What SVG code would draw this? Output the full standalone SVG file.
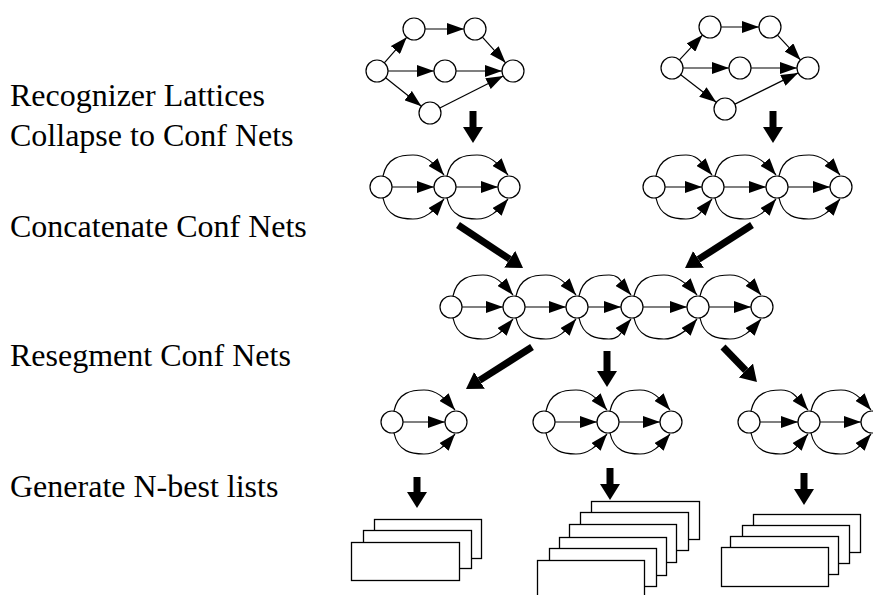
<svg xmlns="http://www.w3.org/2000/svg" width="873" height="595" viewBox="0 0 873 595">
<style>
  .lbl { font-family: "Liberation Serif", "Times New Roman", serif; font-size: 32px; fill: #000; }
  .n { fill: #fff; stroke: #000; stroke-width: 1.2; }
  .e { fill: none; stroke: #000; stroke-width: 1.2; marker-end: url(#a); }
  .big { fill: none; stroke: #000; stroke-width: 7; marker-end: url(#h); }
  .sheet { fill: #fff; stroke: #000; stroke-width: 1.3; }
</style>
<defs>
  <marker id="a" markerUnits="userSpaceOnUse" viewBox="0 0 17 12" markerWidth="17" markerHeight="12" refX="17" refY="6" orient="auto">
    <path d="M0,0 L17,6 L0,12 z" fill="#000"/>
  </marker>
  <marker id="h" markerUnits="userSpaceOnUse" viewBox="0 0 16 20" markerWidth="16" markerHeight="20" refX="0" refY="10" orient="auto">
    <path d="M0,0 L16,10 L0,20 z" fill="#000"/>
  </marker>
</defs>
<rect width="873" height="595" fill="#fff"/>

<!-- step labels -->
<g id="labels">
  <text class="lbl" x="10" y="106">Recognizer Lattices</text>
  <text class="lbl" x="10" y="146">Collapse to Conf Nets</text>
  <text class="lbl" x="10" y="237">Concatenate Conf Nets</text>
  <text class="lbl" x="10" y="366">Resegment Conf Nets</text>
  <text class="lbl" x="10" y="497">Generate N-best lists</text>
</g>

<!-- connectors -->
<g id="connectors">
  <!-- lattice 1 -->
  <path class="e" d="M384.3,62.8 L406.7,37.3"/>
  <path class="e" d="M425,29 H464"/>
  <path class="e" d="M482.4,37.2 L505.6,62.8"/>
  <path class="e" d="M388,71 H434"/>
  <path class="e" d="M456,71 H502"/>
  <path class="e" d="M385.6,77.8 L421.4,106.2"/>
  <path class="e" d="M439.8,108 L503.2,76"/>
  <!-- lattice 2 -->
  <path class="e" d="M679.5,59.9 L702.5,35.1"/>
  <path class="e" d="M721,27 H759"/>
  <path class="e" d="M777.5,35.1 L800.5,59.9"/>
  <path class="e" d="M683,68 H729"/>
  <path class="e" d="M751,68 H797"/>
  <path class="e" d="M680.7,74.7 L716.3,102.3"/>
  <path class="e" d="M734.9,104.1 L798.1,72.9"/>

  <!-- confusion net A -->
  <path class="e" d="M383,176 C387,157 401,155 413,155 S433,162 444,175"/>
  <path class="e" d="M383,198 C387,217 401,219 413,219 S433,212 444,199"/>
  <path class="e" d="M392,187 H434"/>
  <path class="e" d="M447,176 C451,157 465,155 477,155 S497,162 508,175"/>
  <path class="e" d="M447,198 C451,217 465,219 477,219 S497,212 508,199"/>
  <path class="e" d="M456,187 H498"/>

  <!-- confusion net B -->
  <path class="e" d="M656,176 C660,157 674,155 686,155 S701,162 712,175"/>
  <path class="e" d="M656,198 C660,217 674,219 686,219 S701,212 712,199"/>
  <path class="e" d="M665,187 H702"/>
  <path class="e" d="M715,176 C719,157 733,155 745,155 S765,162 776,175"/>
  <path class="e" d="M715,198 C719,217 733,219 745,219 S765,212 776,199"/>
  <path class="e" d="M724,187 H766"/>
  <path class="e" d="M779,176 C783,157 797,155 809,155 S829,162 840,175"/>
  <path class="e" d="M779,198 C783,217 797,219 809,219 S829,212 840,199"/>
  <path class="e" d="M788,187 H830"/>

  <!-- concatenated net -->
  <path class="e" d="M453,296 C457,277 471,275 483,275 S502,282 513,295"/>
  <path class="e" d="M453,318 C457,337 471,339 483,339 S502,332 513,319"/>
  <path class="e" d="M462,307 H503"/>
  <path class="e" d="M516,296 C520,277 534,275 546,275 S565,282 576,295"/>
  <path class="e" d="M516,318 C520,337 534,339 546,339 S565,332 576,319"/>
  <path class="e" d="M525,307 H566"/>
  <path class="e" d="M579,296 C583,277 597,275 609,275 S620,282 631,295"/>
  <path class="e" d="M579,318 C583,337 597,339 609,339 S620,332 631,319"/>
  <path class="e" d="M588,307 H621"/>
  <path class="e" d="M634,296 C638,277 652,275 664,275 S686,282 697,295"/>
  <path class="e" d="M634,318 C638,337 652,339 664,339 S686,332 697,319"/>
  <path class="e" d="M643,307 H687"/>
  <path class="e" d="M700,296 C704,277 718,275 730,275 S750,282 761,295"/>
  <path class="e" d="M700,318 C704,337 718,339 730,339 S750,332 761,319"/>
  <path class="e" d="M709,307 H751"/>

  <!-- resegmented nets -->
  <path class="e" d="M394,411 C398,392 412,390 424,390 S444,397 455,410"/>
  <path class="e" d="M394,433 C398,452 412,454 424,454 S444,447 455,434"/>
  <path class="e" d="M403,422 H445"/>
  <path class="e" d="M546,411 C550,392 564,390 576,390 S596,397 607,410"/>
  <path class="e" d="M546,433 C550,452 564,454 576,454 S596,447 607,434"/>
  <path class="e" d="M555,422 H597"/>
  <path class="e" d="M610,411 C614,392 628,390 640,390 S659,397 670,410"/>
  <path class="e" d="M610,433 C614,452 628,454 640,454 S659,447 670,434"/>
  <path class="e" d="M619,422 H660"/>
  <path class="e" d="M751,411 C755,392 769,390 781,390 S797,397 808,410"/>
  <path class="e" d="M751,433 C755,452 769,454 781,454 S797,447 808,434"/>
  <path class="e" d="M760,422 H798"/>
  <path class="e" d="M811,411 C815,392 829,390 841,390 S860,397 871,410"/>
  <path class="e" d="M811,433 C815,452 829,454 841,454 S860,447 871,434"/>
  <path class="e" d="M820,422 H861"/>

  <!-- process arrows -->
  <path class="big" d="M473,111 V127"/>
  <path class="big" d="M773,111 V127"/>
  <path class="big" d="M458,225 L509.7,259.2"/>
  <path class="big" d="M752,225 L698.5,259.4"/>
  <path class="big" d="M532,347 L479.5,380.4"/>
  <path class="big" d="M607,351 V371"/>
  <path class="big" d="M723,347 L745.8,370.5"/>
  <path class="big" d="M417,477 V492"/>
  <path class="big" d="M610,468 V484"/>
  <path class="big" d="M804,473 V489"/>
</g>

<!-- lattice 1 nodes -->
<g id="l1s"><circle class="n" cx="377" cy="71" r="11"/></g>
<g id="l1t1"><circle class="n" cx="414" cy="29" r="11"/></g>
<g id="l1t2"><circle class="n" cx="475" cy="29" r="11"/></g>
<g id="l1m"><circle class="n" cx="445" cy="71" r="11"/></g>
<g id="l1e"><circle class="n" cx="513" cy="71" r="11"/></g>
<g id="l1b"><circle class="n" cx="430" cy="113" r="11"/></g>
<!-- lattice 2 nodes -->
<g id="l2s"><circle class="n" cx="672" cy="68" r="11"/></g>
<g id="l2t1"><circle class="n" cx="710" cy="27" r="11"/></g>
<g id="l2t2"><circle class="n" cx="770" cy="27" r="11"/></g>
<g id="l2m"><circle class="n" cx="740" cy="68" r="11"/></g>
<g id="l2e"><circle class="n" cx="808" cy="68" r="11"/></g>
<g id="l2b"><circle class="n" cx="725" cy="109" r="11"/></g>

<!-- confusion net A nodes -->
<g id="ca1"><circle class="n" cx="381" cy="187" r="11"/></g>
<g id="ca2"><circle class="n" cx="445" cy="187" r="11"/></g>
<g id="ca3"><circle class="n" cx="509" cy="187" r="11"/></g>
<!-- confusion net B nodes -->
<g id="cb1"><circle class="n" cx="654" cy="187" r="11"/></g>
<g id="cb2"><circle class="n" cx="713" cy="187" r="11"/></g>
<g id="cb3"><circle class="n" cx="777" cy="187" r="11"/></g>
<g id="cb4"><circle class="n" cx="841" cy="187" r="11"/></g>

<!-- concatenated net nodes -->
<g id="cc1"><circle class="n" cx="451" cy="307" r="11"/></g>
<g id="cc2"><circle class="n" cx="514" cy="307" r="11"/></g>
<g id="cc3"><circle class="n" cx="577" cy="307" r="11"/></g>
<g id="cc4"><circle class="n" cx="632" cy="307" r="11"/></g>
<g id="cc5"><circle class="n" cx="698" cy="307" r="11"/></g>
<g id="cc6"><circle class="n" cx="762" cy="307" r="11"/></g>

<!-- resegmented net nodes -->
<g id="ra1"><circle class="n" cx="392" cy="422" r="11"/></g>
<g id="ra2"><circle class="n" cx="456" cy="422" r="11"/></g>
<g id="rb1"><circle class="n" cx="544" cy="422" r="11"/></g>
<g id="rb2"><circle class="n" cx="608" cy="422" r="11"/></g>
<g id="rb3"><circle class="n" cx="671" cy="422" r="11"/></g>
<g id="rc1"><circle class="n" cx="749" cy="422" r="11"/></g>
<g id="rc2"><circle class="n" cx="809" cy="422" r="11"/></g>
<g id="rc3"><circle class="n" cx="872" cy="422" r="11"/></g>

<!-- N-best list stacks -->
<g id="nbestA">
  <rect class="sheet" x="374.5" y="519.5" width="107" height="39"/>
  <rect class="sheet" x="363.5" y="530.5" width="108" height="38"/>
  <rect class="sheet" x="351.5" y="542.5" width="108" height="38"/>
</g>
<g id="nbestB">
  <rect class="sheet" x="591.5" y="501.5" width="108" height="38"/>
  <rect class="sheet" x="580.5" y="512.5" width="108" height="38"/>
  <rect class="sheet" x="569.5" y="524.5" width="107" height="38"/>
  <rect class="sheet" x="559.5" y="537.5" width="107" height="38"/>
  <rect class="sheet" x="549.5" y="548.5" width="107" height="38"/>
  <rect class="sheet" x="537.5" y="560.5" width="107" height="40"/>
</g>
<g id="nbestC">
  <rect class="sheet" x="753.5" y="514.5" width="107" height="38"/>
  <rect class="sheet" x="742.5" y="525.5" width="107" height="38"/>
  <rect class="sheet" x="730.5" y="536.5" width="108" height="38"/>
  <rect class="sheet" x="721.5" y="547.5" width="107" height="39"/>
</g>
</svg>
